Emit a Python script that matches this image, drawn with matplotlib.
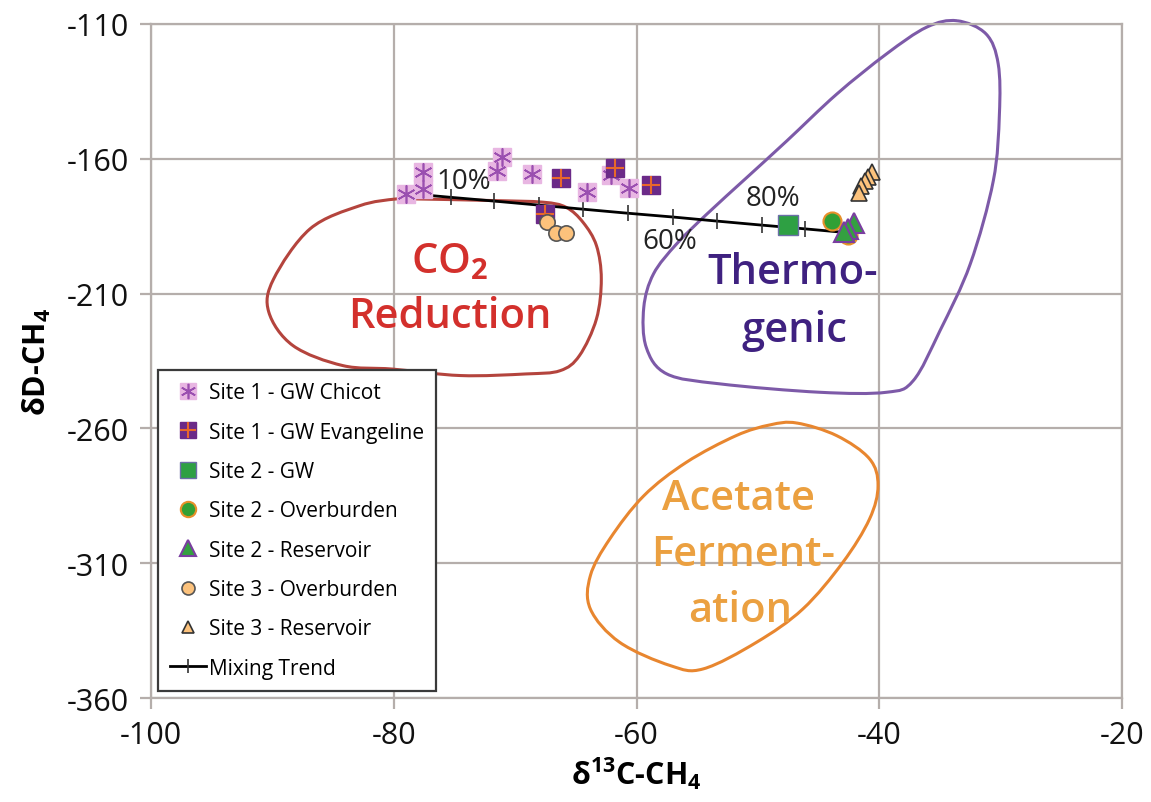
import numpy as np
import matplotlib
matplotlib.use("Agg")
import matplotlib.pyplot as plt
from matplotlib.path import Path
from matplotlib.patches import PathPatch

plt.rcParams["font.family"] = ["Open Sans", "DejaVu Sans"]
plt.rcParams["axes.unicode_minus"] = False
plt.rcParams["mathtext.fontset"] = "custom"
plt.rcParams["mathtext.rm"] = "Open Sans"
plt.rcParams["mathtext.bf"] = "Open Sans:bold"

# isotope data, d13C-CH4 (x) and dD-CH4 (y), per permil
chicot_x = [-79.0, -77.6, -77.6, -71.1, -71.5, -68.6, -64.1, -62.1, -60.6]
chicot_y = [-173.1, -165.0, -171.2, -159.4, -164.4, -165.6, -172.4, -166.0, -170.9]
evang_x = [-67.5, -66.2, -61.8, -58.8]
evang_y = [-180.5, -167.2, -163.5, -169.7]
s2_gw_x = [-47.5]
s2_gw_y = [-184.6]
s2_ob_x = [-43.9, -42.6]
s2_ob_y = [-183.0, -188.3]
s2_res_x = [-42.1, -42.6, -42.9]
s2_res_y = [-184.0, -186.2, -187.0]
s3_ob_x = [-67.4, -66.6, -65.8]
s3_ob_y = [-183.6, -187.6, -187.6]
s3_res_x = [-40.6, -40.9, -41.2, -41.5, -41.7]
s3_res_y = [-165.0, -166.6, -168.1, -170.0, -172.8]

# mixing trend, 0% to 100% in 10% steps
mix_x = [-79.0, -75.3, -71.7, -68.0, -64.4, -60.7, -57.0, -53.4, -49.7, -46.1, -42.4]
mix_y = [-172.8, -174.3, -175.7, -177.2, -178.7, -180.2, -181.6, -183.1, -184.6, -186.0, -187.5]

# genetic field outlines
co2_field = [(-79.8, -174.9), (-78.1, -174.9), (-71.8, -175.5), (-67.7, -176.1), (-65.8, -178.0),
             (-64.4, -183.6), (-63.3, -192.2), (-62.9, -204.6), (-63.3, -219.4), (-64.7, -233.0),
             (-66.3, -238.6), (-69.1, -239.8), (-74.5, -240.4), (-80.1, -238.0), (-84.2, -236.7),
             (-88.3, -229.3), (-90.3, -216.8), (-89.9, -204.6), (-86.9, -186.0), (-82.8, -177.4)]
thermo_field = [(-33.6, -108.8), (-31.2, -113.7), (-30.2, -124.8), (-30.1, -143.4), (-30.6, -168.1),
                (-32.5, -199.0), (-35.0, -223.8), (-37.2, -242.3), (-39.4, -246.6), (-44.9, -246.6),
                (-53.1, -243.5), (-57.5, -239.8), (-59.2, -229.9), (-59.4, -215.1), (-58.6, -202.7),
                (-56.7, -191.6), (-54.2, -180.5), (-50.9, -166.9), (-47.6, -153.3), (-43.5, -136.0),
                (-39.4, -121.1), (-36.1, -111.2)]
acetate_field = [(-46.8, -258.0), (-43.5, -262.7), (-40.8, -271.3), (-40.1, -281.2), (-40.8, -293.6),
                 (-43.0, -309.7), (-46.3, -327.0), (-50.1, -339.3), (-54.5, -349.2), (-57.2, -348.0),
                 (-61.4, -339.3), (-63.8, -327.0), (-63.8, -314.6), (-62.2, -301.0), (-59.4, -285.0),
                 (-55.9, -272.6), (-51.8, -262.7), (-49.0, -258.7)]

x_ticks = [-100, -80, -60, -40, -20]
y_ticks = [-360, -310, -260, -210, -160, -110]


def closed_curve(points):
    # smooth closed outline through the points (Catmull-Rom as cubic Beziers)
    p = np.asarray(points, dtype=float)
    n = len(p)
    verts = [p[0]]
    codes = [Path.MOVETO]
    for i in range(n):
        p0, p1, p2, p3 = p[i - 1], p[i], p[(i + 1) % n], p[(i + 2) % n]
        verts += [p1 + (p2 - p0) / 6, p2 - (p3 - p1) / 6, p2]
        codes += [Path.CURVE4] * 3
    return Path(verts, codes)


fig = plt.figure(figsize=(11.51, 8.03), dpi=100)
ax = fig.add_axes([0.1312, 0.1295, 0.8436, 0.8394])

grid_c = "#b5aeab"
ax.set_xlim(-100, -20)
ax.set_ylim(-360, -110)
ax.set_xticks(x_ticks)
ax.set_yticks(y_ticks)
ax.grid(True, color=grid_c, lw=1.6)
ax.set_axisbelow(True)
for sp in ax.spines.values():
    sp.set_color(grid_c)
    sp.set_linewidth(1.6)
ax.tick_params(length=8, width=1.6, color=grid_c, labelsize=22, pad=8, labelcolor="#111111")

for pts, col, clip in [(co2_field, "#b4443d", True), (thermo_field, "#7d5aa8", False),
                       (acetate_field, "#e8862f", True)]:
    ax.add_patch(PathPatch(closed_curve(pts), facecolor="none", edgecolor=col, lw=2.2,
                           clip_on=clip, zorder=2))

# field names
red, purple, orange = "#d3302c", "#3f2180", "#eba040"
kw = dict(ha="center", va="baseline", fontsize=30, fontweight="semibold", zorder=3)
ax.text(-75.4, -202.0, r"CO$_\mathbf{2}$", color=red, **kw)
ax.text(-75.4, -222.4, "Reduction", color=red, **kw)
ax.text(-47.1, -206.1, "Thermo-", color=purple, **kw)
ax.text(-47.0, -227.6, "genic", color=purple, **kw)
ax.text(-51.6, -289.9, "Acetate", color=orange, **kw)
ax.text(-51.2, -310.7, "Ferment-", color=orange, **kw)
ax.text(-51.5, -331.4, "ation", color=orange, **kw)

mix, = ax.plot(mix_x, mix_y, color="black", lw=2, marker="|", ms=12, mew=1.2,
               mec="#333333", zorder=4)
pct_kw = dict(fontsize=20, ha="center", va="center", color="#222222", zorder=5)
ax.text(-74.2, -168.2, "10%", **pct_kw)
ax.text(-57.3, -190.5, "60%", **pct_kw)
ax.text(-48.8, -174.5, "80%", **pct_kw)

ms = 13
h_ch_sq, = ax.plot(chicot_x, chicot_y, ls="none", marker="s", ms=ms, mfc="#e8b6e2", mec="#e8b6e2", zorder=5)
h_ch_st, = ax.plot(chicot_x, chicot_y, ls="none", marker=(6, 2, 0), ms=ms, mec="#9a4fb0", mew=1.2, zorder=5)
h_ev_sq, = ax.plot(evang_x, evang_y, ls="none", marker="s", ms=ms, mfc="#6b2a88", mec="#6b2a88", zorder=5)
h_ev_pl, = ax.plot(evang_x, evang_y, ls="none", marker="+", ms=ms, mec="#e8682a", mew=1.5, zorder=5)
h_gw, = ax.plot(s2_gw_x, s2_gw_y, ls="none", marker="s", ms=14, mfc="#2ea043", mec="#6b6fa8", mew=1, zorder=6)
h_ob2, = ax.plot(s2_ob_x, s2_ob_y, ls="none", marker="o", ms=13, mfc="#32a035", mec="#e8902a", mew=1.5, zorder=6)
h_res2, = ax.plot(s2_res_x, s2_res_y, ls="none", marker="^", ms=14, mfc="#34a040", mec="#7a3ea0", mew=1.5, zorder=7)
h_ob3, = ax.plot(s3_ob_x, s3_ob_y, ls="none", marker="o", ms=11, mfc="#fcc27c", mec="#555555", mew=1.2, zorder=6)
h_res3, = ax.plot(s3_res_x, s3_res_y, ls="none", marker="^", ms=11, mfc="#fcc27c", mec="#333333", mew=1.2, zorder=6)

handles = [(h_ch_sq, h_ch_st), (h_ev_sq, h_ev_pl), h_gw, h_ob2, h_res2, h_ob3, h_res3, mix]
labels = ["Site 1 - GW Chicot", "Site 1 - GW Evangeline", "Site 2 - GW", "Site 2 - Overburden",
          "Site 2 - Reservoir", "Site 3 - Overburden", "Site 3 - Reservoir", "Mixing Trend"]
leg = ax.legend(handles, labels, loc="lower left", bbox_to_anchor=(0.007, 0.010), borderaxespad=0,
                fontsize=15, labelspacing=0.88, handlelength=1.7, handletextpad=0.15,
                markerscale=0.85, numpoints=1, fancybox=False, framealpha=1, borderpad=0.6)
leg.get_frame().set_edgecolor("#3a3a3a")
leg.get_frame().set_linewidth(1.6)
leg.set_zorder(10)

ax.set_xlabel(r"δ$^\mathbf{13}$C-CH$_\mathbf{4}$", fontsize=22, fontweight="bold", labelpad=3)
ax.set_ylabel(r"δD-CH$_\mathbf{4}$", fontsize=22, fontweight="bold", labelpad=10)

fig.savefig("out.png", dpi=100)
